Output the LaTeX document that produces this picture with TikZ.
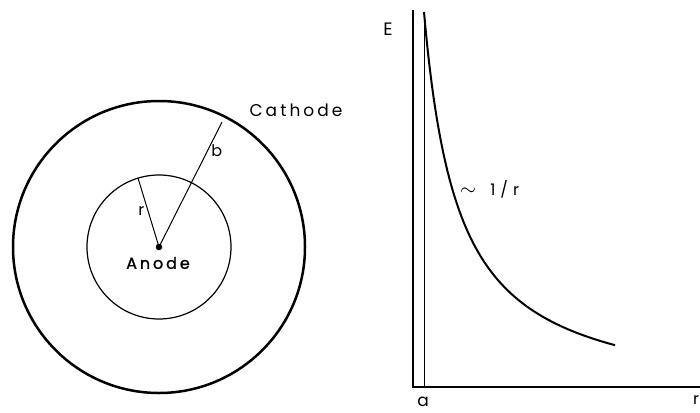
\documentclass[tikz,border=0pt]{standalone}
\usepackage{fontspec}
\setmainfont{Poppins}[LetterSpace=18]
\begin{document}
\begin{tikzpicture}[x=1pt, y=-1pt, font=\fontsize{16}{18}\selectfont]
    \useasboundingbox (0,0) rectangle (700,412);
    % Cathode and anode wire
    \draw[line width=2.5pt] (159,247) circle (146);
    \draw[line width=1.2pt] (159,247) circle (72);
    \fill (159,247) circle (3.3) coordinate (anode);
    \node (anodelabel) at (158,263) {\addfontfeatures{FakeBold=1.3}Anode};
    \node (cathodelabel) at (296,110) {\fontsize{17}{19}\selectfont Cathode};
    % Radii r and b
    \coordinate (rend) at (138,178);
    \coordinate (bend) at (222,122);
    \draw[line width=1pt] (anode) -- (rend) node[pos=0.52, left=0pt] {r};
    \draw[line width=1pt] (anode) -- (bend) node[pos=0.77, right=0pt] {b};
    % Field plot E(r)
    \coordinate (origin) at (413,387);
    \coordinate (ytop) at (413,10);
    \coordinate (xend) at (700,387);
    \coordinate (abot) at (424,387);
    \coordinate (atop) at (424,12);
    \draw[line width=1.4pt] (ytop) -- (origin) -- (xend);
    \draw[line width=1pt] (abot) -- (atop);
    \draw[line width=2pt] plot[domain=0:191, samples=100, smooth] ({424+\x},{387-(13614/(\x+34.6)-18.5)});
    \node (elabel) at (388,29) {\fontsize{18}{20}\selectfont E};
    \node (alabel) at (423,402) {\fontsize{17}{19}\selectfont a};
    \node (rlabel) at (696,400) {r};
    \node[anchor=west, inner sep=0pt] (slope) at (460,189) {{\fontsize{22}{22}\selectfont$\sim$}\hspace{14pt}1\hspace{5pt}/\hspace{5pt}r};
\end{tikzpicture}
\end{document}
